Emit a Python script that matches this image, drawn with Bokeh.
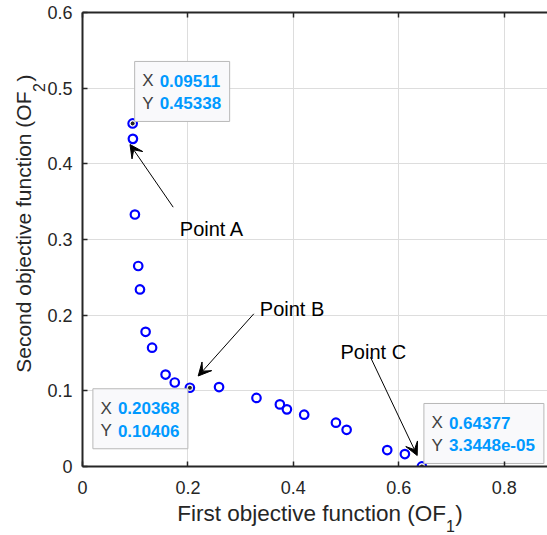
import math
from bokeh.plotting import figure
from bokeh.models import (Range1d, LinearAxis, FixedTicker, Label, Arrow, VeeHead,
                          NumeralTickFormatter, CustomJSTickFormatter)
from bokeh.embed import file_html
from bokeh.resources import INLINE

# ---- data ----
of1 = [0.09511, 0.0956, 0.0994, 0.1057, 0.109, 0.1197, 0.132, 0.1576, 0.175, 0.20368,
       0.259, 0.330, 0.3744, 0.3877, 0.4205, 0.4807, 0.501, 0.578, 0.6115, 0.64377]
of2 = [0.45338, 0.433, 0.333, 0.265, 0.234, 0.178, 0.157, 0.1215, 0.111, 0.10406,
       0.105, 0.0906, 0.0821, 0.0755, 0.0685, 0.0579, 0.0485, 0.0217, 0.0164, 3.3448e-05]
tip_index = [0, 9, 19]
tip_x_text = ["0.09511", "0.20368", "0.64377"]
tip_y_text = ["0.45338", "0.10406", "3.3448e-05"]
point_names = ["Point A", "Point B", "Point C"]
x_ticks = [0, 0.2, 0.4, 0.6, 0.8]
y_ticks = [0, 0.1, 0.2, 0.3, 0.4, 0.5, 0.6]
x_label = "First objective function (OF"
y_label = "Second objective function (OF"
x_sub = "1"
y_sub = "2"

# ---- layout (page pixels; the canvas starts at the page corner) ----
W, H = 547, 535
BL, BR, BT, BB = 82, 0, 12, 69
SX = 527.2                     # px per unit of OF1
FW, FH = W - BL - BR, H - BT - BB
XMAX, YMAX = FW / SX, 0.6
SY = FH / YMAX
OX, OY = BL, BT + FH


def X(px):
    return (px - OX) / SX


def Y(py):
    return (OY - py) / SY


def PX(x):
    return OX + x * SX


def PY(y):
    return OY - y * SY


# Arial / Liberation Sans advance widths (1/1000 em)
ADV = {"F": 611, "i": 222, "r": 333, "s": 500, "t": 278, " ": 278, "o": 556, "b": 556,
       "j": 222, "e": 556, "c": 500, "v": 500, "u": 556, "n": 556, "f": 278, "(": 333,
       "O": 778, "S": 667, "d": 556, ")": 333}


def text_w(s, size):
    return sum(ADV.get(ch, 556) for ch in s) * size / 1000.0


FONT = "Liberation Sans"
DARK = "#262626"
XLAB_SIZE = 22.5
YLAB_SIZE = 21
SUB_SIZE = 16

p = figure(width=W, height=H, x_range=Range1d(0, XMAX), y_range=Range1d(0, YMAX),
           output_backend="svg", toolbar_location=None,
           min_border_left=BL, min_border_right=BR, min_border_top=BT, min_border_bottom=BB)
p.outline_line_color = None
p.background_fill_color = "white"
p.border_fill_color = "white"

bottom = p.xaxis[0]
left = p.yaxis[0]
top = LinearAxis()
p.add_layout(top, "above")

for ax, ticks in [(bottom, x_ticks), (left, y_ticks), (top, x_ticks)]:
    ax.ticker = FixedTicker(ticks=ticks)
    ax.formatter = NumeralTickFormatter(format="0.[0]")
    ax.axis_line_color = DARK
    ax.axis_line_width = 2
    ax.major_tick_in = 5
    ax.major_tick_out = 0
    ax.minor_tick_in = 0
    ax.minor_tick_out = 0
    ax.major_tick_line_color = DARK
    ax.major_tick_line_width = 1.5
    ax.major_label_text_font = FONT
    ax.major_label_text_font_size = "18px"
    ax.major_label_text_color = DARK

bottom.major_label_standoff = 14
left.major_label_standoff = 10
top.formatter = CustomJSTickFormatter(code="return '';")
top.major_label_standoff = 0


def label_axis(where, positions, texts, size, standoff, orient):
    ax = LinearAxis(ticker=FixedTicker(ticks=positions),
                    formatter=CustomJSTickFormatter(args=dict(labels=texts),
                                                    code="return labels[index];"))
    ax.axis_line_color = None
    ax.major_tick_line_color = None
    ax.minor_tick_line_color = None
    ax.major_tick_in = 0
    ax.major_tick_out = 0
    ax.minor_tick_in = 0
    ax.minor_tick_out = 0
    ax.major_label_text_font = FONT
    ax.major_label_text_font_size = f"{size}px"
    ax.major_label_text_color = DARK
    ax.major_label_standoff = standoff
    ax.major_label_orientation = orient
    p.add_layout(ax, where)
    return ax


# x-axis title: subscript panel first (low), then the main text pulled back up
xw = text_w(x_label, XLAB_SIZE)
x_end = 445.5
label_axis("below", [X(450.0)], [x_sub], SUB_SIZE, 23, "horizontal")
label_axis("below", [X(x_end - xw / 2), X(458.5)], [x_label, ")"], XLAB_SIZE, -34, "horizontal")

# y-axis title (rotated): subscript panel next to tick labels, main text outside it
yw = text_w(y_label, YLAB_SIZE)
y_end = 91.0
label_axis("left", [Y(87.0)], [y_sub], SUB_SIZE, 0, "parallel")
label_axis("left", [Y(y_end + yw / 2), Y(77.5)], [y_label, ")"], YLAB_SIZE, -6, "parallel")

p.xgrid.ticker = FixedTicker(ticks=x_ticks)
p.ygrid.ticker = FixedTicker(ticks=y_ticks)
for g in (p.xgrid, p.ygrid):
    g.grid_line_color = "#dddddd"
    g.grid_line_width = 1

# ---- markers ----
p.scatter(of1, of2, marker="circle", size=8.5, fill_color=None,
          line_color="#0000ff", line_width=2.2)
p.scatter([of1[i] for i in tip_index], [of2[i] for i in tip_index], marker="circle",
          size=5, fill_color=DARK, line_color="white", line_width=1)

# ---- data tips ----
tip_geom = [  # (side of point, above/below, width, gap)
    ("right", "above", 95, 2),
    ("left", "below", 95, 1),
    ("right", "above", 120, 3),
]
for k, i in enumerate(tip_index):
    px, py = PX(of1[i]), PY(of2[i])
    side, vert, w, gap = tip_geom[k]
    bl = px + 2 if side == "right" else px - 2 - w
    if vert == "above":
        bb = py - gap
        bt = bb - 60
    else:
        bt = py + gap
        bb = bt + 60
    p.quad(left=[X(bl)], right=[X(bl + w)], top=[Y(bt)], bottom=[Y(bb)],
           fill_color="#f9f9fb", line_color="#b8b8b8", line_width=1)
    for r, (lab, val) in enumerate([("X", tip_x_text[k]), ("Y", tip_y_text[k])]):
        yy = Y(bt + 19.5 + r * 22.5)
        p.add_layout(Label(x=X(bl + 7.5), y=yy, text=lab, text_font=FONT,
                           text_font_size="17px", text_color="#404040",
                           text_baseline="middle", text_align="left"))
        p.add_layout(Label(x=X(bl + 25), y=yy, text=val, text_font=FONT,
                           text_font_size="17px", text_color="#0099ff", text_font_style="bold",
                           text_baseline="middle", text_align="left"))

# ---- text arrows ----
arrow_geom = [  # text left/baseline, arrow start, arrow end (page px)
    ((179.3, 228.3), (172.7, 206.7), (129.5, 144.0)),
    ((259.3, 308.3), (253.3, 313.3), (197.7, 375.5)),
    ((340.0, 351.0), (370.0, 356.7), (416.7, 455.0)),
]
for k, ((tx, ty), (sx, sy), (ex, ey)) in enumerate(arrow_geom):
    p.add_layout(Label(x=X(tx), y=Y(ty), text=point_names[k], text_font=FONT,
                       text_font_size="20px", text_color="#000000",
                       text_baseline="alphabetic", text_align="left"))
    p.add_layout(Arrow(x_start=X(sx), y_start=Y(sy), x_end=X(ex), y_end=Y(ey),
                       line_color="black", line_width=1,
                       end=VeeHead(size=13, fill_color="black", line_color="black", line_width=1)))

open("out.html", "w").write(file_html(p, INLINE))
